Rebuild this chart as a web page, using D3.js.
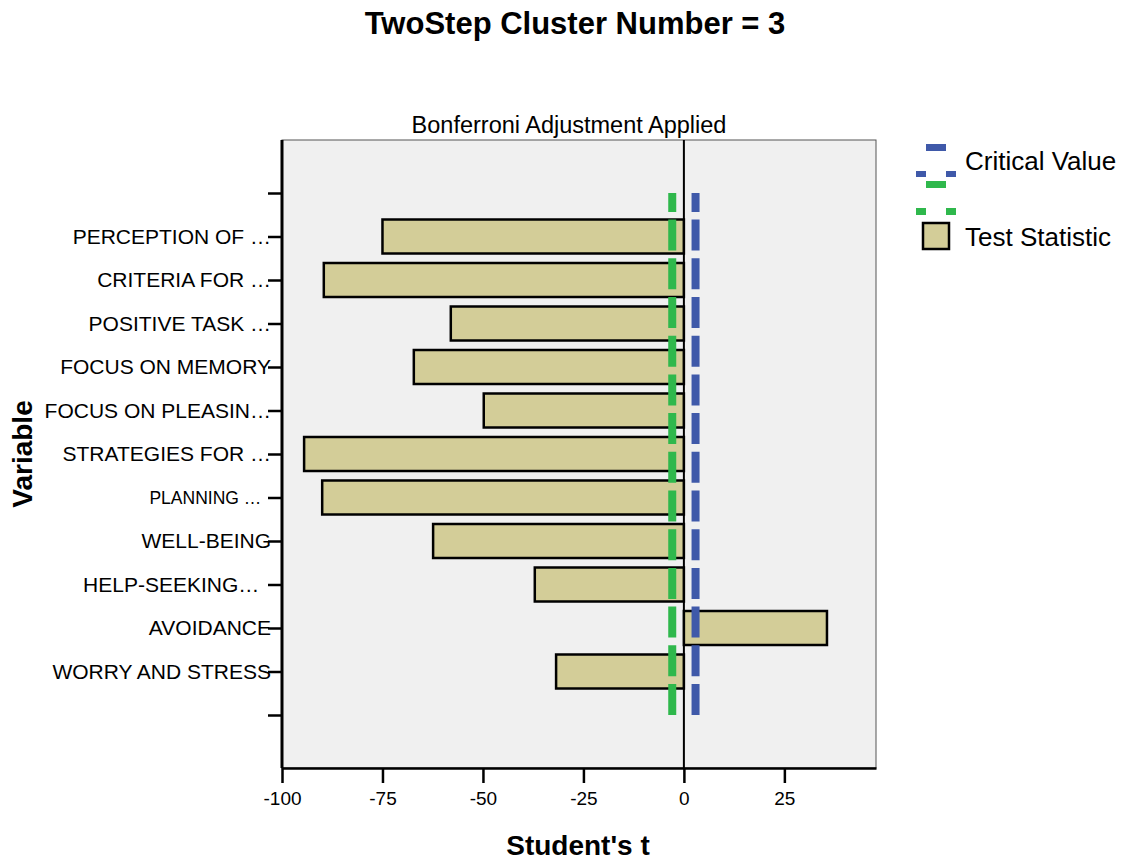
<!DOCTYPE html>
<html>
<head>
<meta charset="utf-8">
<script src="https://cdn.jsdelivr.net/npm/d3@7"></script>
<style>
  body { margin: 0; background: #fff; }
  svg { font-family: "Liberation Sans", Arial, sans-serif; }
</style>
</head>
<body>
<svg id="chart" width="1123" height="863"></svg>
<script>
// variables, top to bottom as drawn
const variables = [
  "PERCEPTION OF \u2026",
  "CRITERIA FOR \u2026",
  "POSITIVE TASK \u2026",
  "FOCUS ON MEMORY",
  "FOCUS ON PLEASIN\u2026",
  "STRATEGIES FOR \u2026",
  "PLANNING \u2026\u00a0\u00a0",
  "WELL-BEING",
  "HELP-SEEKING\u2026\u00a0\u00a0",
  "AVOIDANCE",
  "WORRY AND STRESS"
];
// Student's t test statistic for each variable
const testStatistic = [-75, -89.6, -58, -67.2, -49.8, -94.5, -90, -62.4, -37.1, 35.6, -31.8];
// Bonferroni-adjusted critical values
const criticalValues = [-2.9, 2.9];
const xTicks = [-100, -75, -50, -25, 0, 25];

const svg = d3.select("#chart");
const plot = { left: 282, right: 876, top: 140, bottom: 768 };

const x = d3.scaleLinear().domain([-100, 47.8]).range([plot.left, plot.right]);
// two empty slots so the categories sit inside the frame like SPSS does
const y = d3.scalePoint()
  .domain(["__top", ...variables, "__bottom"])
  .range([193, 715]);
const barH = 34;

// frame background
svg.append("rect")
  .attr("x", plot.left).attr("y", plot.top)
  .attr("width", plot.right - plot.left).attr("height", plot.bottom - plot.top)
  .attr("fill", "#f0f0f0")
  .attr("stroke", "#555").attr("stroke-width", 1);

// bars
svg.append("g").selectAll("rect")
  .data(variables.map((v, i) => ({ v, t: testStatistic[i] })))
  .enter().append("rect")
  .attr("x", d => x(Math.min(0, d.t)))
  .attr("y", d => y(d.v) - barH / 2)
  .attr("width", d => Math.abs(x(d.t) - x(0)))
  .attr("height", barH)
  .attr("fill", "#d3cd98")
  .attr("stroke", "#000")
  .attr("stroke-width", 2.5);

// zero reference line
svg.append("line")
  .attr("x1", x(0)).attr("x2", x(0))
  .attr("y1", plot.top).attr("y2", plot.bottom)
  .attr("stroke", "#000").attr("stroke-width", 2);

// critical value lines (drawn bottom up so the dash phase lines up)
const critColors = ["#2fb84c", "#3f59a9"];
svg.append("g").selectAll("line")
  .data(criticalValues)
  .enter().append("line")
  .attr("x1", d => x(d)).attr("x2", d => x(d))
  .attr("y1", y("__bottom")).attr("y2", y("__top"))
  .attr("stroke", (d, i) => critColors[i])
  .attr("stroke-width", 8)
  .attr("stroke-dasharray", "31,7.7");

// x axis
const xAxis = svg.append("g")
  .attr("transform", `translate(0,${plot.bottom})`)
  .call(d3.axisBottom(x).tickValues(xTicks).tickSize(15).tickSizeOuter(0).tickFormat(d => String(d)));
xAxis.select(".domain").attr("stroke", "#000").attr("stroke-width", 2.5);
xAxis.selectAll(".tick line").attr("stroke", "#000").attr("stroke-width", 2.5);
xAxis.selectAll(".tick text")
  .attr("y", 24)
  .attr("font-size", 19)
  .attr("fill", "#000")
  .attr("font-family", "Liberation Sans, Arial, sans-serif");

// y axis
const yAxis = svg.append("g")
  .attr("transform", `translate(${plot.left},0)`)
  .call(d3.axisLeft(y).tickSize(14).tickSizeOuter(0).tickFormat(d => d.startsWith("__") ? "" : d));
yAxis.select(".domain").attr("stroke", "#000").attr("stroke-width", 3)
  .attr("d", `M0,${plot.top}V${plot.bottom}`);
yAxis.selectAll(".tick line").attr("stroke", "#000").attr("stroke-width", 2.5);
yAxis.selectAll(".tick text")
  .attr("x", -11)
  .attr("font-size", d => d.startsWith("PLANNING") ? 17.5 : 21)
  .attr("fill", "#000")
  .style("white-space", "pre")
  .attr("font-family", "Liberation Sans, Arial, sans-serif");

// titles
svg.append("text")
  .attr("x", 575).attr("y", 34)
  .attr("text-anchor", "middle")
  .attr("font-size", 31).attr("font-weight", "bold")
  .text("TwoStep Cluster Number = 3");

svg.append("text")
  .attr("x", 569).attr("y", 133)
  .attr("text-anchor", "middle")
  .attr("font-size", 23.5)
  .text("Bonferroni Adjustment Applied");

svg.append("text")
  .attr("x", 578).attr("y", 855)
  .attr("text-anchor", "middle")
  .attr("font-size", 28).attr("font-weight", "bold")
  .text("Student's t");

svg.append("text")
  .attr("transform", "translate(32,454) rotate(-90)")
  .attr("text-anchor", "middle")
  .attr("font-size", 28).attr("font-weight", "bold")
  .text("Variable");

// legend
const legend = svg.append("g");
const legendPieces = [
  { x: 926, y: 144, w: 20, h: 7, c: critColors[1] },
  { x: 916, y: 171, w: 10, h: 6, c: critColors[1] },
  { x: 946, y: 171, w: 10, h: 6, c: critColors[1] },
  { x: 926, y: 181, w: 20, h: 7, c: critColors[0] },
  { x: 916, y: 208, w: 10, h: 7, c: critColors[0] },
  { x: 946, y: 208, w: 10, h: 7, c: critColors[0] }
];
legend.selectAll("rect.piece")
  .data(legendPieces)
  .enter().append("rect")
  .attr("class", "piece")
  .attr("x", d => d.x).attr("y", d => d.y)
  .attr("width", d => d.w).attr("height", d => d.h)
  .attr("fill", d => d.c);
legend.append("rect")
  .attr("x", 923).attr("y", 223).attr("width", 26).attr("height", 26)
  .attr("fill", "#d3cd98").attr("stroke", "#000").attr("stroke-width", 2.5);
legend.append("text")
  .attr("x", 965).attr("y", 170).attr("font-size", 26)
  .text("Critical Value");
legend.append("text")
  .attr("x", 965).attr("y", 246).attr("font-size", 26)
  .text("Test Statistic");
</script>
</body>
</html>
